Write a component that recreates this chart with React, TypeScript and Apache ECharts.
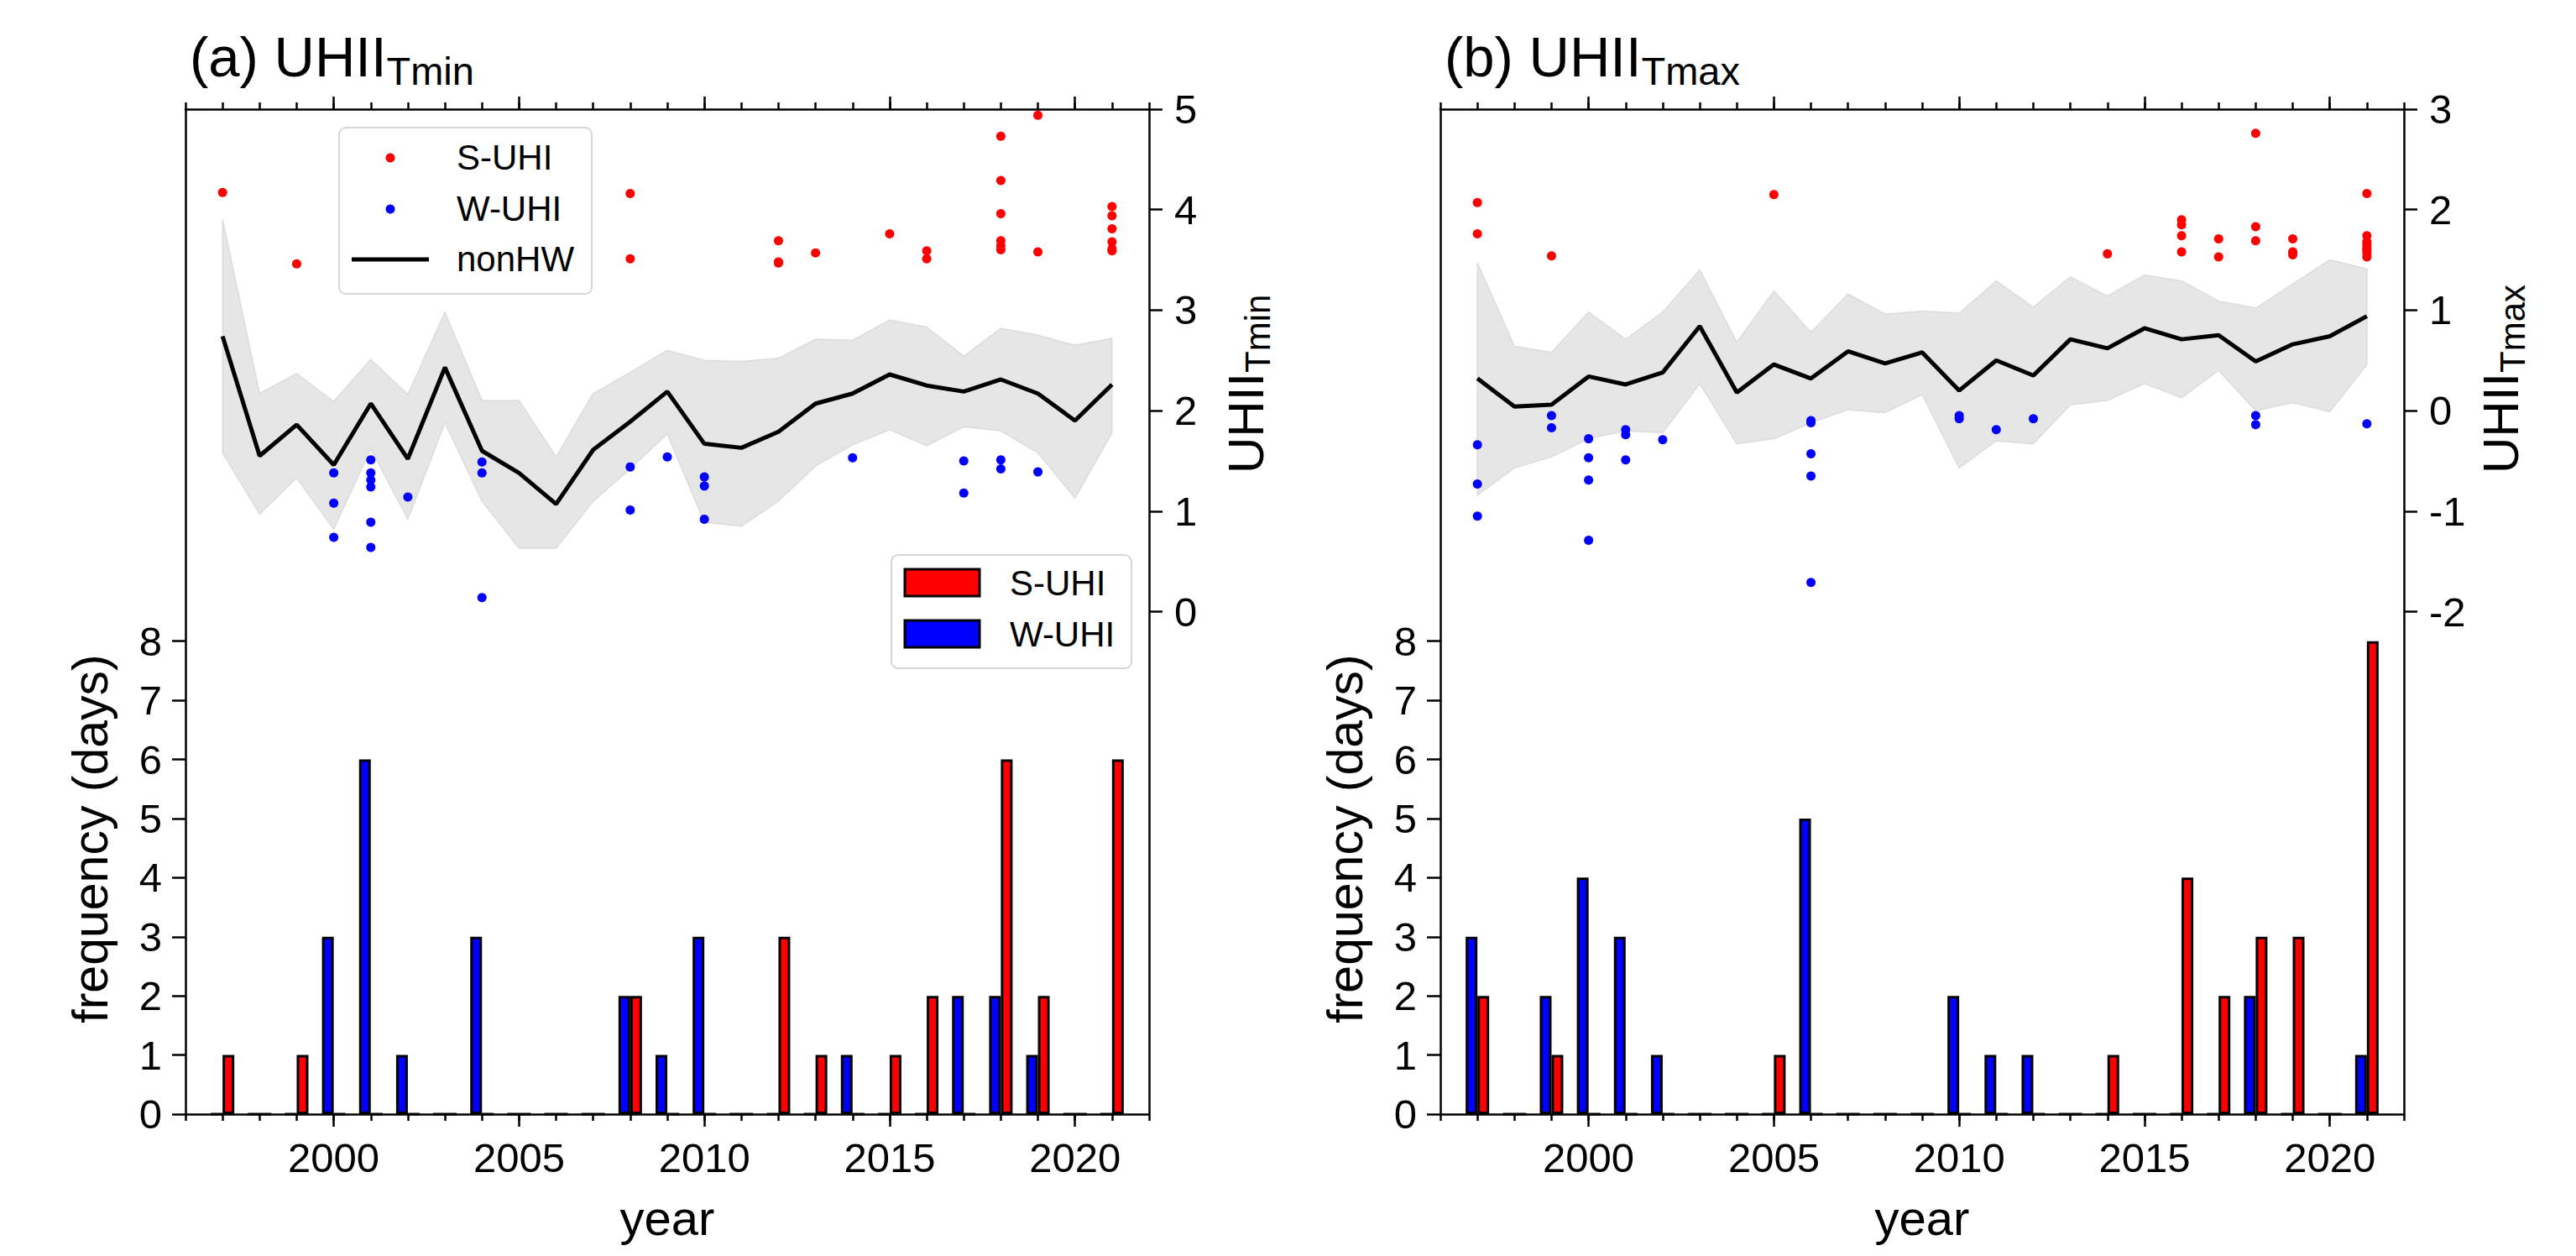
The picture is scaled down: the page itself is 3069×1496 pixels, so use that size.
import React, { useEffect, useRef } from 'react';
import * as echarts from 'echarts';

// ---------------- data ----------------
const years = [1997, 1998, 1999, 2000, 2001, 2002, 2003, 2004, 2005, 2006, 2007, 2008, 2009, 2010, 2011, 2012, 2013, 2014, 2015, 2016, 2017, 2018, 2019, 2020, 2021];

// (a) Tmin
const nonHwTmin = [2.74, 1.55, 1.86, 1.46, 2.07, 1.52, 2.43, 1.60, 1.38, 1.07, 1.61, 1.89, 2.19, 1.67, 1.63, 1.79, 2.07, 2.17, 2.36, 2.25, 2.19, 2.31, 2.17, 1.90, 2.26];
const upperTmin = [3.90, 2.17, 2.37, 2.09, 2.51, 2.16, 2.98, 2.10, 2.10, 1.54, 2.17, 2.38, 2.60, 2.50, 2.49, 2.52, 2.71, 2.70, 2.90, 2.83, 2.54, 2.82, 2.75, 2.65, 2.72];
const lowerTmin = [1.58, 0.97, 1.33, 0.82, 1.62, 0.92, 1.88, 1.10, 0.63, 0.63, 1.10, 1.42, 1.77, 0.89, 0.85, 1.10, 1.45, 1.66, 1.81, 1.65, 1.84, 1.80, 1.58, 1.13, 1.78];
const sUhiTmin = [[1997, 4.17], [1999, 3.46], [2008, 4.16], [2008, 3.51], [2012, 3.69], [2012, 3.48], [2012, 3.47], [2013, 3.57], [2015, 3.76], [2016, 3.59], [2016, 3.51], [2018, 4.73], [2018, 4.29], [2018, 3.96], [2018, 3.69], [2018, 3.64], [2018, 3.60], [2019, 4.94], [2019, 3.58], [2021, 4.03], [2021, 3.94], [2021, 3.81], [2021, 3.68], [2021, 3.59], [2021, 3.61]];
const wUhiTmin = [[2000, 1.38], [2000, 1.08], [2000, 0.74], [2001, 1.51], [2001, 1.38], [2001, 1.31], [2001, 1.24], [2001, 0.89], [2001, 0.64], [2002, 1.14], [2004, 1.49], [2004, 1.38], [2004, 0.14], [2008, 1.44], [2008, 1.01], [2009, 1.54], [2010, 1.34], [2010, 1.25], [2010, 0.92], [2014, 1.53], [2017, 1.50], [2017, 1.18], [2018, 1.51], [2018, 1.42], [2019, 1.39]];
const sFreqTmin = [1, 0, 1, 0, 0, 0, 0, 0, 0, 0, 0, 2, 0, 0, 0, 3, 1, 0, 1, 2, 0, 6, 2, 0, 6];
const wFreqTmin = [0, 0, 0, 3, 6, 1, 0, 3, 0, 0, 0, 2, 1, 3, 0, 0, 0, 1, 0, 0, 2, 2, 1, 0, 0];

// (b) Tmax
const nonHwTmax = [0.32, 0.04, 0.06, 0.34, 0.26, 0.38, 0.84, 0.18, 0.46, 0.32, 0.59, 0.47, 0.58, 0.20, 0.50, 0.35, 0.71, 0.62, 0.82, 0.71, 0.75, 0.49, 0.66, 0.74, 0.94];
const upperTmax = [1.47, 0.64, 0.58, 0.98, 0.71, 0.98, 1.40, 0.68, 1.19, 0.78, 1.16, 0.96, 0.99, 0.97, 1.29, 1.03, 1.33, 1.14, 1.35, 1.29, 1.09, 1.02, 1.26, 1.50, 1.41];
const lowerTmax = [-0.84, -0.57, -0.46, -0.28, -0.20, -0.22, 0.27, -0.33, -0.28, -0.12, 0.01, -0.02, 0.16, -0.57, -0.30, -0.33, 0.06, 0.10, 0.27, 0.13, 0.40, 0.00, 0.08, -0.01, 0.46];
const sUhiTmax = [[1997, 2.07], [1997, 1.76], [1999, 1.54], [2005, 2.15], [2014, 1.56], [2016, 1.90], [2016, 1.85], [2016, 1.74], [2016, 1.58], [2017, 1.71], [2017, 1.53], [2018, 2.76], [2018, 1.83], [2018, 1.69], [2019, 1.71], [2019, 1.58], [2019, 1.55], [2021, 2.16], [2021, 1.74], [2021, 1.68], [2021, 1.65], [2021, 1.62], [2021, 1.60], [2021, 1.57], [2021, 1.53]];
const wUhiTmax = [[1997, -0.34], [1997, -0.73], [1997, -1.05], [1999, -0.05], [1999, -0.17], [2000, -0.28], [2000, -0.47], [2000, -0.69], [2000, -1.29], [2001, -0.19], [2001, -0.24], [2001, -0.49], [2002, -0.29], [2006, -0.10], [2006, -0.12], [2006, -0.43], [2006, -0.65], [2006, -1.71], [2010, -0.05], [2010, -0.08], [2011, -0.19], [2012, -0.08], [2018, -0.05], [2018, -0.14], [2021, -0.13]];
const sFreqTmax = [2, 0, 1, 0, 0, 0, 0, 0, 1, 0, 0, 0, 0, 0, 0, 0, 0, 1, 0, 4, 2, 3, 3, 0, 8];
const wFreqTmax = [3, 0, 2, 4, 3, 1, 0, 0, 0, 5, 0, 0, 0, 2, 1, 1, 0, 0, 0, 0, 0, 2, 0, 0, 1];

// tick labels
const majorYears = [2000, 2005, 2010, 2015, 2020];
const freqTicks = [0, 1, 2, 3, 4, 5, 6, 7, 8];
const tminTicks = [0, 1, 2, 3, 4, 5];
const tmaxTicks = [-2, -1, 0, 1, 2, 3];

// ---------------- styling ----------------
const FONT = "'Liberation Sans', Arial, Helvetica, sans-serif";
const LW = 2.5;
const RED = '#ff0000';
const BLUE = '#0000ff';
const K = 0.3465; // central -> alphabetic baseline offset (em)

function measure(text: string, size: number): number {
  const c = document.createElement('canvas').getContext('2d');
  if (!c) return text.length * size * 0.55;
  c.font = `${size}px ${FONT}`;
  return c.measureText(text).width;
}

function subText(main: string, sub: string, M: number, S: number, d: number, x: number, y: number, rot: number) {
  const w = measure(main, M);
  return {
    type: 'group',
    x,
    y,
    rotation: rot,
    z: 100,
    children: [
      { type: 'text', x: 0, y: 0, style: { text: main, fontSize: M, fontFamily: FONT, fill: '#000', align: 'left', verticalAlign: 'middle' } },
      { type: 'text', x: w, y: d + K * (M - S), style: { text: sub, fontSize: S, fontFamily: FONT, fill: '#000', align: 'left', verticalAlign: 'middle' } },
    ],
  };
}

const plain = (v: number) => String(v);

const App: React.FC = () => {
  const ref = useRef<HTMLDivElement>(null);

  useEffect(() => {
    document.body.style.margin = '0';
    if (!ref.current) return;
    const chart = echarts.init(ref.current, null, { renderer: 'svg' });

    const panels = [
      { left: 221, title: '(a) UHII', sub: 'Tmin', line: nonHwTmin, upper: upperTmin, lower: lowerTmin, sDots: sUhiTmin, wDots: wUhiTmin, sFreq: sFreqTmin, wFreq: wFreqTmin, uMin: -5, uMax: 5, uTicks: tminTicks },
      { left: 1716, title: '(b) UHII', sub: 'Tmax', line: nonHwTmax, upper: upperTmax, lower: lowerTmax, sDots: sUhiTmax, wDots: wUhiTmax, sFreq: sFreqTmax, wFreq: wFreqTmax, uMin: -7, uMax: 3, uTicks: tmaxTicks },
    ];
    const W = 1148;
    const TOP = 130;
    const H = 1197;
    const SHIFT = 1495;

    const grids: any[] = [];
    const xAxes: any[] = [];
    const yAxes: any[] = [];
    const series: any[] = [];
    const graphics: any[] = [];

    const lineStyle = { color: '#000', width: LW };

    panels.forEach((p, gi) => {
      grids.push({ left: p.left, top: TOP, width: W, height: H, containLabel: false });
      const xBase = { gridIndex: gi, type: 'value', min: 1996, max: 2022, splitLine: { show: false } };
      xAxes.push(
        {
          ...xBase, position: 'bottom',
          axisLine: { show: true, onZero: false, lineStyle },
          axisTick: { show: true, customValues: majorYears, length: 15, lineStyle },
          axisLabel: { show: true, customValues: majorYears, formatter: plain, margin: 27, fontSize: 49, color: '#000', fontFamily: FONT },
          name: 'year', nameLocation: 'middle', nameGap: 94,
          nameTextStyle: { fontSize: 58, color: '#000', fontFamily: FONT },
        },
        {
          ...xBase, position: 'bottom', interval: 1,
          axisLine: { show: false, onZero: false },
          axisTick: { show: true, length: 8, lineStyle },
          axisLabel: { show: false },
        },
        {
          ...xBase, position: 'top',
          axisLine: { show: true, onZero: false, lineStyle },
          axisTick: { show: true, customValues: majorYears, length: 15, lineStyle },
          axisLabel: { show: false },
        },
        {
          ...xBase, position: 'top', interval: 1,
          axisLine: { show: false, onZero: false },
          axisTick: { show: true, length: 8, lineStyle },
          axisLabel: { show: false },
        },
      );
      yAxes.push(
        {
          gridIndex: gi, type: 'value', position: 'left', min: 0, max: 17, interval: 1,
          axisLine: { show: true, onZero: false, lineStyle },
          axisTick: { show: true, customValues: freqTicks, length: 16, lineStyle },
          axisLabel: { show: true, customValues: freqTicks, formatter: plain, margin: 28, fontSize: 49, color: '#000', fontFamily: FONT },
          splitLine: { show: false },
        },
        {
          gridIndex: gi, type: 'value', position: 'right', min: p.uMin, max: p.uMax, interval: 1,
          axisLine: { show: true, onZero: false, lineStyle },
          axisTick: { show: true, customValues: p.uTicks, length: 16, lineStyle },
          axisLabel: { show: true, customValues: p.uTicks, formatter: plain, margin: 30, fontSize: 49, color: '#000', fontFamily: FONT },
          splitLine: { show: false },
        },
      );
      const xi = gi * 4;
      const yf = gi * 2;
      const yu = gi * 2 + 1;
      series.push(
        {
          type: 'custom', name: 'nonHW range', xAxisIndex: xi, yAxisIndex: yu, silent: true, z: 1,
          data: years.map((y, i) => [y, p.upper[i], p.lower[i]]),
          encode: { x: 0, y: [1, 2] },
          renderItem: (params: any, api: any) => {
            if (params.dataIndex !== 0) return null;
            const top = years.map((y, i) => api.coord([y, p.upper[i]]));
            const bot = years.map((y, i) => api.coord([y, p.lower[i]])).reverse();
            return {
              type: 'polygon',
              shape: { points: top.concat(bot) },
              style: { fill: '#e6e6e6', stroke: '#dcdcdc', lineWidth: 1.5 },
            };
          },
        },
        {
          type: 'bar', name: 'W-UHI', xAxisIndex: xi, yAxisIndex: yf, z: 2,
          data: years.map((y, i) => [y, p.wFreq[i]]),
          barWidth: 14, barGap: '0%',
          itemStyle: { color: BLUE, borderColor: '#000', borderWidth: 3 },
        },
        {
          type: 'bar', name: 'S-UHI', xAxisIndex: xi, yAxisIndex: yf, z: 2,
          data: years.map((y, i) => [y, p.sFreq[i]]),
          barWidth: 14, barGap: '0%',
          itemStyle: { color: RED, borderColor: '#000', borderWidth: 3 },
        },
        {
          type: 'line', name: 'nonHW', xAxisIndex: xi, yAxisIndex: yu, z: 3,
          data: years.map((y, i) => [y, p.line[i]]),
          showSymbol: false, symbol: 'none',
          lineStyle: { color: '#000', width: 5 },
        },
        {
          type: 'scatter', name: 'S-UHI', xAxisIndex: xi, yAxisIndex: yu, z: 4,
          data: p.sDots, symbol: 'circle', symbolSize: 11,
          itemStyle: { color: RED, opacity: 1 },
        },
        {
          type: 'scatter', name: 'W-UHI', xAxisIndex: xi, yAxisIndex: yu, z: 4,
          data: p.wDots, symbol: 'circle', symbolSize: 11,
          itemStyle: { color: BLUE, opacity: 1 },
        },
      );

      const dx = gi * SHIFT;
      // title
      graphics.push(subText(p.title, p.sub, 67, 47, 10, 226 + dx, 90.7 - K * 67, 0));
      // right axis label (rotated)
      graphics.push(subText('UHII', p.sub, 60, 42, 8, 1505 - K * 60 + dx, 564, Math.PI / 2));
      // left axis label
      graphics.push({
        type: 'text', x: 128.3 - K * 59 + dx, y: 999, rotation: Math.PI / 2, z: 100,
        style: { text: 'frequency (days)', fontSize: 59, fontFamily: FONT, fill: '#000', align: 'center', verticalAlign: 'middle' },
      });
    });

    // legends (panel a)
    const legFont = { fontSize: 42, fontFamily: FONT, fill: '#000', align: 'left', verticalAlign: 'middle' };
    graphics.push(
      { type: 'rect', z: 100, shape: { x: 404, y: 152, width: 301, height: 198, r: 8 }, style: { fill: 'rgba(255,255,255,0.8)', stroke: '#d6d6d6', lineWidth: 2 } },
      { type: 'circle', z: 101, shape: { cx: 465, cy: 188, r: 5.5 }, style: { fill: RED } },
      { type: 'circle', z: 101, shape: { cx: 465, cy: 249, r: 5.5 }, style: { fill: BLUE } },
      { type: 'line', z: 101, shape: { x1: 419, y1: 309, x2: 511, y2: 309 }, style: { stroke: '#000', lineWidth: 5 } },
      { type: 'text', z: 101, x: 544, y: 187, style: { ...legFont, text: 'S-UHI' } },
      { type: 'text', z: 101, x: 544, y: 248, style: { ...legFont, text: 'W-UHI' } },
      { type: 'text', z: 101, x: 544, y: 308, style: { ...legFont, text: 'nonHW' } },
      { type: 'rect', z: 100, shape: { x: 1062, y: 661, width: 286, height: 135, r: 8 }, style: { fill: 'rgba(255,255,255,0.8)', stroke: '#d6d6d6', lineWidth: 2 } },
      { type: 'rect', z: 101, shape: { x: 1078, y: 678, width: 89, height: 32 }, style: { fill: RED, stroke: '#000', lineWidth: 3 } },
      { type: 'rect', z: 101, shape: { x: 1078, y: 739, width: 89, height: 32 }, style: { fill: BLUE, stroke: '#000', lineWidth: 3 } },
      { type: 'text', z: 101, x: 1203, y: 694, style: { ...legFont, text: 'S-UHI' } },
      { type: 'text', z: 101, x: 1203, y: 755, style: { ...legFont, text: 'W-UHI' } },
    );

    chart.setOption({
      animation: false,
      backgroundColor: '#ffffff',
      textStyle: { fontFamily: FONT },
      grid: grids,
      xAxis: xAxes,
      yAxis: yAxes,
      series,
      graphic: { elements: graphics },
    });

    return () => {
      chart.dispose();
    };
  }, []);

  return <div ref={ref} style={{ width: 3069, height: 1496 }} />;
};

export default App;
